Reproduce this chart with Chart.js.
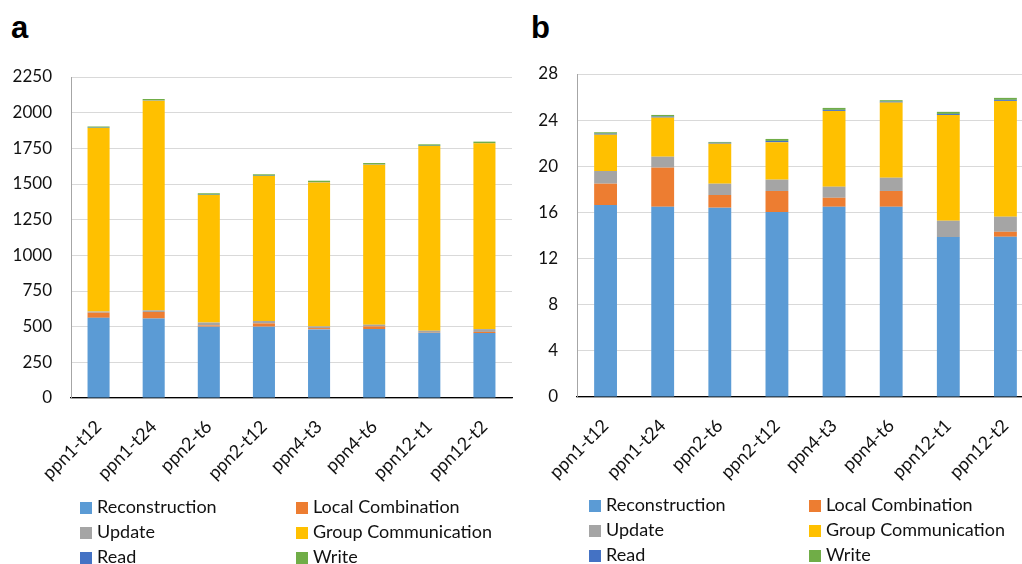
<!DOCTYPE html>
<html>
<head>
<meta charset="utf-8">
<script src="https://cdn.jsdelivr.net/npm/chart.js@4.4.1/dist/chart.umd.min.js"></script>
<style>
    html, body { margin: 0; padding: 0; background: #fff; }
    body { width: 1022px; height: 564px; overflow: hidden; position: relative; font-family: Lato, "Liberation Sans", sans-serif; }
    .panel-label { position: absolute; font: bold 31px "Liberation Sans", Arial, sans-serif; color: #000; line-height: 1; }
    canvas { position: absolute; top: 0; }
    .legend-item { position: absolute; font-size: 18px; color: #111; line-height: 20px; white-space: nowrap; }
    .legend-item .box { display: inline-block; width: 12px; height: 12px; margin-right: 5px; vertical-align: -1px; }
</style>
</head>
<body>
<div class="panel-label" style="left:11px; top:12px;">a</div>
<div class="panel-label" style="left:531px; top:12px;">b</div>
<canvas id="chartA" width="520" height="564" style="left:0px;"></canvas>
<canvas id="chartB" width="520" height="564" style="left:520px;"></canvas>
<div id="legendA"></div>
<div id="legendB"></div>
<script>
const categories = ['ppn1-t12', 'ppn1-t24', 'ppn2-t6', 'ppn2-t12', 'ppn4-t3', 'ppn4-t6', 'ppn12-t1', 'ppn12-t2'];
const seriesNames = ['Reconstruction', 'Local Combination', 'Update', 'Group Communication', 'Read', 'Write'];

// panel a
const aReconstruction = [562, 557, 500, 500, 481, 483, 455, 455];
const aLocalCombination = [36, 46, 9, 23, 9, 19, 2, 8];
const aUpdate = [8, 11, 20, 17, 12, 12, 15, 20];
const aGroupCommunication = [1287, 1470, 894, 1016, 1009, 1121, 1294, 1302];
const aRead = [2, 2, 2, 2, 2, 2, 2, 2];
const aWrite = [8, 10, 10, 10, 10, 10, 10, 10];
const aTicks = [0, 250, 500, 750, 1000, 1250, 1500, 1750, 2000, 2250];

// panel b
const bReconstruction = [16.64, 16.49, 16.41, 16.03, 16.49, 16.49, 13.86, 13.89];
const bLocalCombination = [1.85, 3.39, 1.10, 1.83, 0.78, 1.37, 0, 0.43];
const bUpdate = [1.10, 0.95, 0.98, 0.98, 0.96, 1.15, 1.42, 1.31];
const bGroupCommunication = [3.15, 3.39, 3.47, 3.24, 6.57, 6.51, 9.17, 10.04];
const bRead = [0.09, 0.09, 0.08, 0.12, 0.09, 0.09, 0.09, 0.09];
const bWrite = [0.12, 0.14, 0.07, 0.17, 0.17, 0.12, 0.18, 0.17];
const bTicks = [0, 4, 8, 12, 16, 20, 24, 28];

const colors = ['#5B9BD5', '#ED7D31', '#A5A5A5', '#FFC000', '#4472C4', '#70AD47'];
const tickFont = { family: 'Lato, "Liberation Sans", sans-serif', size: 17 };
const xTickFont = { family: 'Lato, "Liberation Sans", sans-serif', size: 18 };

function makeChart(id, series, ticks, geo) {
    let datasets = [];
    for (let i = 0; i < series.length; i++) {
        datasets.push({
            label: seriesNames[i],
            data: series[i],
            backgroundColor: colors[i],
            borderWidth: 0,
            barPercentage: 0.4,
            categoryPercentage: 1.0
        });
    }
    return new Chart(document.getElementById(id), {
        type: 'bar',
        data: { labels: categories, datasets: datasets },
        options: {
            responsive: false,
            animation: false,
            events: [],
            layout: { padding: { top: geo.top, right: geo.right, left: 0, bottom: 0 } },
            plugins: { legend: { display: false }, tooltip: { enabled: false } },
            scales: {
                x: {
                    stacked: true,
                    grid: { display: false },
                    border: { display: true, color: '#000', width: 1.2 },
                    ticks: { font: xTickFont, color: '#111', minRotation: 45, maxRotation: 45, autoSkip: false, padding: 10 },
                    afterFit: (scale) => { scale.height = geo.xHeight; }
                },
                y: {
                    stacked: true,
                    min: ticks[0],
                    max: ticks[ticks.length - 1],
                    afterBuildTicks: (scale) => { scale.ticks = ticks.map(v => ({ value: v })); },
                    grid: { color: '#d9d9d9', lineWidth: 1, drawTicks: false },
                    border: { display: true, color: '#a6a6a6', width: 1 },
                    ticks: { font: tickFont, color: '#111', padding: 19, callback: (v) => String(v) },
                    afterFit: (scale) => { scale.width = geo.yWidth; }
                }
            }
        }
    });
}

// html legend in two columns, built from the chart's datasets
function makeLegend(el, chart, cols, rows) {
    chart.data.datasets.forEach((ds, i) => {
        let item = document.createElement('div');
        item.className = 'legend-item';
        item.style.left = cols[i % 2] + 'px';
        item.style.top = (rows[Math.floor(i / 2)] - 10) + 'px';
        item.innerHTML = '<span class="box" style="background:' + ds.backgroundColor + '"></span>' + ds.label;
        el.appendChild(item);
    });
}

let chartA = makeChart('chartA',
    [aReconstruction, aLocalCombination, aUpdate, aGroupCommunication, aRead, aWrite],
    aTicks, { top: 77, right: 8, xHeight: 166, yWidth: 71 });
let chartB = makeChart('chartB',
    [bReconstruction, bLocalCombination, bUpdate, bGroupCommunication, bRead, bWrite],
    bTicks, { top: 74, right: 6, xHeight: 167, yWidth: 57 });

makeLegend(document.getElementById('legendA'), chartA, [80, 296], [506, 531, 556]);
makeLegend(document.getElementById('legendB'), chartB, [589, 809], [504, 529, 554]);
</script>
</body>
</html>
